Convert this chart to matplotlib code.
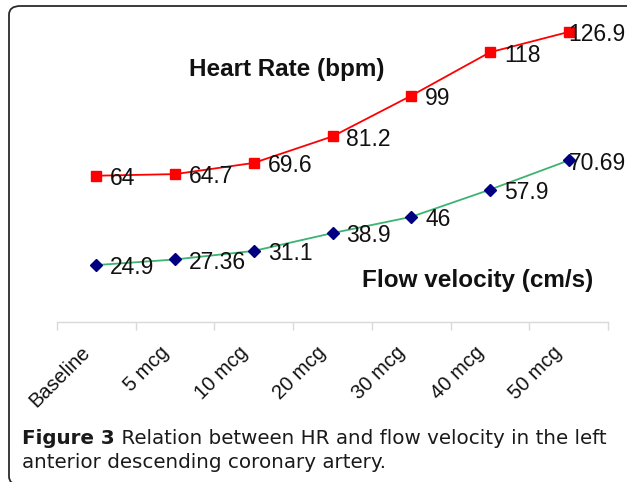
import matplotlib
matplotlib.use("Agg")
import matplotlib.pyplot as plt
from matplotlib.patches import FancyBboxPatch
from matplotlib.transforms import ScaledTranslation

# data
doses = ["Baseline", "5 mcg", "10 mcg", "20 mcg", "30 mcg", "40 mcg", "50 mcg"]
heart_rate = [64, 64.7, 69.6, 81.2, 99, 118, 126.9]
hr_labels = ["64", "64.7", "69.6", "81.2", "99", "118", "126.9"]
flow_velocity = [24.9, 27.36, 31.1, 38.9, 46, 57.9, 70.69]
fv_labels = ["24.9", "27.36", "31.1", "38.9", "46", "57.9", "70.69"]

plt.rcParams['font.family'] = ['Liberation Sans', 'DejaVu Sans']

fig = plt.figure(figsize=(6.27, 4.82), dpi=100)
W, H = 627, 482

# rounded frame round the figure (right and bottom run off the picture)
frame = FancyBboxPatch((9 / W, -3 / H), 700 / W, 479 / H,
                       boxstyle="round,pad=0,rounding_size=0.018",
                       transform=fig.transFigure, fill=False,
                       edgecolor='#2b2b2b', linewidth=1.3)
fig.patches.append(frame)

# axes: x from px 57 to 608, y zero at px 322
ax = fig.add_axes([57 / W, (H - 322) / H, 551 / W, 320 / H])
x = list(range(len(doses)))

ax.plot(x, heart_rate, color='#ff0000', linewidth=1.3, marker='s',
        markersize=6.5, markerfacecolor='#ff0000', markeredgecolor='#ff0000')
ax.plot(x, flow_velocity, color='#3cb371', linewidth=1.3, marker='D',
        markersize=6.5, markerfacecolor='#000080', markeredgecolor='#000080')

# data labels; the last one is pulled in to stay inside the plot
last = len(x) - 1
for series, labels in [(heart_rate, hr_labels), (flow_velocity, fv_labels)]:
    for xi, v, s in zip(x, series, labels):
        dx = 0 if xi == last else 10
        ax.annotate(s, (xi, v), xytext=(dx, -2), textcoords='offset points',
                    ha='left', va='center', fontsize=16.5, color='#111111',
                    annotation_clip=False)

ax.text(2.42, 110.3, "Heart Rate (bpm)", fontsize=17.5, fontweight='bold',
        ha='center', va='center', color='#111111')
ax.text(4.84, 18, "Flow velocity (cm/s)", fontsize=17.5, fontweight='bold',
        ha='center', va='center', color='#111111')

ax.set_xlim(-0.5, 6.5)
ax.set_ylim(0, 140)
for side in ['top', 'right', 'left']:
    ax.spines[side].set_visible(False)
ax.spines['bottom'].set_color('#d9d9d9')
ax.spines['bottom'].set_linewidth(1.0)
ax.set_yticks([])

ax.set_xticks(x)
ax.set_xticklabels(doses, rotation=45, ha='right', rotation_mode='anchor',
                   fontsize=14.5, color='#111111')
ax.tick_params(axis='x', which='major', length=0, pad=15)
shift = ScaledTranslation(-16 / 100, 0, fig.dpi_scale_trans)
for lab in ax.get_xticklabels():
    lab.set_transform(lab.get_transform() + shift)
ax.set_xticks([i - 0.5 for i in range(len(doses) + 1)], minor=True)
ax.tick_params(axis='x', which='minor', length=6, color='#d9d9d9', width=1.0)

# caption
cap1 = fig.text(22 / W, 1 - 438 / H, "Figure 3", fontsize=14.3, fontweight='bold',
                family='DejaVu Sans', va='center', ha='left', color='#1a1a1a')
ax.annotate(" Relation between HR and flow velocity in the left",
            xy=(1, 0.5), xycoords=cap1, va='center', ha='left',
            fontsize=14.3, family='DejaVu Sans', color='#1a1a1a',
            annotation_clip=False)
fig.text(22 / W, 1 - 462 / H, "anterior descending coronary artery.",
         fontsize=14.3, family='DejaVu Sans', va='center', ha='left', color='#1a1a1a')

fig.savefig("out.png", dpi=100)
